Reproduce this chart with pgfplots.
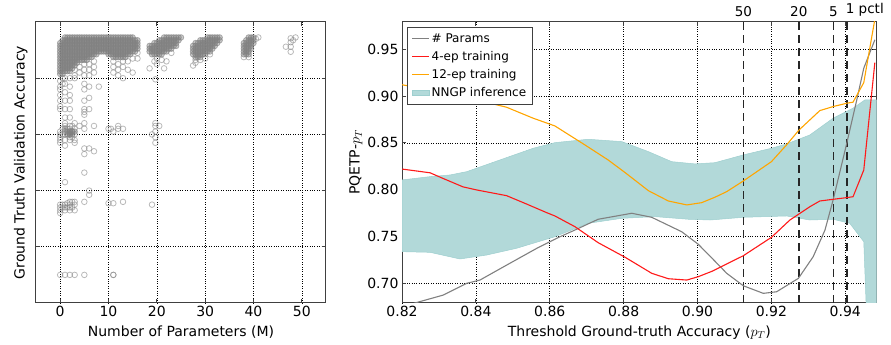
\documentclass[border=0pt]{standalone}
\usepackage{pgfplots}
\pgfplotsset{compat=1.18}
\usepackage{fontspec}
\setmainfont{DejaVu Sans}
\definecolor{mplorange}{RGB}{255,165,0}
\definecolor{mplred}{RGB}{255,25,25}
\definecolor{band}{rgb}{0.70,0.85,0.85}
\definecolor{bandedge}{rgb}{0.62,0.81,0.81}
\pgfplotsset{
  myaxis/.style={
    scale only axis,
    clip mode=individual,
    axis line style={black!75, line width=1pt},
    every tick/.style={black!75, line width=0.8pt},
    major tick length=4pt,
    tick align=inside,
    grid=major,
    major grid style={black, dotted, line width=0.6pt},
    tick label style={font=\fontsize{14}{16}\selectfont},
    label style={font=\fontsize{14}{16}\selectfont},
    /pgf/number format/assume math mode=true,
  }
}
\begin{document}
\begin{tikzpicture}
\begin{axis}[myaxis,
  at={(36pt,42pt)}, anchor=south west,
  width=290pt, height=281pt,
  xmin=-5, xmax=55, ymin=0, ymax=1,
  xtick={0,10,20,30,40,50},
  ytick={0.2,0.4,0.6,0.8}, yticklabels={},
  xlabel={Number of Parameters (M)},
  ylabel={Ground Truth Validation Accuracy},
  xlabel style={yshift=-2pt},
  ylabel style={yshift=-2pt},
]
% dense cores
\addplot[only marks, mark=*, mark size=2.8pt, mark options={draw=gray, draw opacity=0.6, fill=gray, fill opacity=0.42, line width=0.8pt}] coordinates {
(0,0.925)(0,0.915)(0,0.905)(0,0.895)(0,0.885)(0,0.875)(0,0.865)(0,0.855)(0,0.845)(0,0.835)(0,0.825)(0,0.815)
(0.5,0.935)(0.5,0.925)(0.5,0.915)(0.5,0.905)(0.5,0.895)(0.5,0.885)(0.5,0.875)(0.5,0.865)(0.5,0.855)(0.5,0.845)(0.5,0.835)(0.5,0.825)(0.5,0.815)
(1,0.945)(1,0.935)(1,0.925)(1,0.915)(1,0.905)(1,0.895)(1,0.885)(1,0.875)(1,0.865)(1,0.855)(1,0.845)(1,0.835)(1,0.825)
(1.5,0.945)(1.5,0.935)(1.5,0.925)(1.5,0.915)(1.5,0.905)(1.5,0.895)(1.5,0.885)(1.5,0.875)(1.5,0.865)(1.5,0.855)(1.5,0.845)(1.5,0.835)(1.5,0.825)
(2,0.945)(2,0.935)(2,0.925)(2,0.915)(2,0.905)(2,0.895)(2,0.885)(2,0.875)(2,0.865)(2,0.855)(2,0.845)(2,0.835)(2,0.825)
(2.5,0.945)(2.5,0.935)(2.5,0.925)(2.5,0.915)(2.5,0.905)(2.5,0.895)(2.5,0.885)(2.5,0.875)(2.5,0.865)(2.5,0.855)(2.5,0.845)(2.5,0.835)
(3,0.945)(3,0.935)(3,0.925)(3,0.915)(3,0.905)(3,0.895)(3,0.885)(3,0.875)(3,0.865)(3,0.855)(3,0.845)
(3.5,0.945)(3.5,0.935)(3.5,0.925)(3.5,0.915)(3.5,0.905)(3.5,0.895)(3.5,0.885)(3.5,0.875)(3.5,0.865)(3.5,0.855)
(4,0.945)(4,0.935)(4,0.925)(4,0.915)(4,0.905)(4,0.895)(4,0.885)(4,0.875)(4,0.865)
(4.5,0.945)(4.5,0.935)(4.5,0.925)(4.5,0.915)(4.5,0.905)(4.5,0.895)(4.5,0.885)(4.5,0.875)(4.5,0.865)
(5,0.945)(5,0.935)(5,0.925)(5,0.915)(5,0.905)(5,0.895)(5,0.885)(5,0.875)(5,0.865)
(5.5,0.945)(5.5,0.935)(5.5,0.925)(5.5,0.915)(5.5,0.905)(5.5,0.895)(5.5,0.885)(5.5,0.875)(5.5,0.865)
(6,0.945)(6,0.935)(6,0.925)(6,0.915)(6,0.905)(6,0.895)(6,0.885)(6,0.875)
(6.5,0.945)(6.5,0.935)(6.5,0.925)(6.5,0.915)(6.5,0.905)(6.5,0.895)(6.5,0.885)(6.5,0.875)
(7,0.945)(7,0.935)(7,0.925)(7,0.915)(7,0.905)(7,0.895)(7,0.885)
(7.5,0.945)(7.5,0.935)(7.5,0.925)(7.5,0.915)(7.5,0.905)(7.5,0.895)(7.5,0.885)
(8,0.945)(8,0.935)(8,0.925)(8,0.915)(8,0.905)(8,0.895)
(8.5,0.945)(8.5,0.935)(8.5,0.925)(8.5,0.915)(8.5,0.905)(8.5,0.895)
(9,0.945)(9,0.935)(9,0.925)(9,0.915)(9,0.905)(9,0.895)
(9.5,0.945)(9.5,0.935)(9.5,0.925)(9.5,0.915)(9.5,0.905)(9.5,0.895)
(10,0.945)(10,0.935)(10,0.925)(10,0.915)(10,0.905)(10,0.895)(10,0.885)
(10.5,0.945)(10.5,0.935)(10.5,0.925)(10.5,0.915)(10.5,0.905)(10.5,0.895)(10.5,0.885)
(11,0.945)(11,0.935)(11,0.925)(11,0.915)(11,0.905)(11,0.895)(11,0.885)(11,0.875)
(11.5,0.945)(11.5,0.935)(11.5,0.925)(11.5,0.915)(11.5,0.905)(11.5,0.895)(11.5,0.885)(11.5,0.875)
(12,0.945)(12,0.935)(12,0.925)(12,0.915)(12,0.905)(12,0.895)(12,0.885)(12,0.875)
(12.5,0.945)(12.5,0.935)(12.5,0.925)(12.5,0.915)(12.5,0.905)(12.5,0.895)(12.5,0.885)(12.5,0.875)
(13,0.945)(13,0.935)(13,0.925)(13,0.915)(13,0.905)(13,0.895)(13,0.885)(13,0.875)
(13.5,0.945)(13.5,0.935)(13.5,0.925)(13.5,0.915)(13.5,0.905)(13.5,0.895)(13.5,0.885)(13.5,0.875)
(14,0.945)(14,0.935)(14,0.925)(14,0.915)(14,0.905)(14,0.895)(14,0.885)
(14.5,0.945)(14.5,0.935)(14.5,0.925)(14.5,0.915)(14.5,0.905)(14.5,0.895)(14.5,0.885)
(15,0.945)(15,0.935)(15,0.925)(15,0.915)(15,0.905)(15,0.895)
(15.5,0.935)(15.5,0.925)(15.5,0.915)(15.5,0.905)(15.5,0.895)
(16,0.935)(16,0.925)(16,0.915)(16,0.905)
(1,0.62)(1.5,0.61)(2,0.61)(2.5,0.61)(2,0.605)(1.5,0.60)(2.5,0.60)(2,0.60)(3,0.61)
(18.5,0.915)(18.5,0.905)(18.5,0.895)
(19,0.915)(19,0.905)(19,0.895)(19,0.885)
(19.5,0.925)(19.5,0.915)(19.5,0.905)(19.5,0.895)(19.5,0.885)
(20,0.925)(20,0.915)(20,0.905)(20,0.895)(20,0.885)
(20.5,0.935)(20.5,0.925)(20.5,0.915)(20.5,0.905)(20.5,0.895)(20.5,0.885)
(21,0.935)(21,0.925)(21,0.915)(21,0.905)(21,0.895)(21,0.885)
(21.5,0.945)(21.5,0.935)(21.5,0.925)(21.5,0.915)(21.5,0.905)(21.5,0.895)
(22,0.945)(22,0.935)(22,0.925)(22,0.915)(22,0.905)(22,0.895)
(22.5,0.945)(22.5,0.935)(22.5,0.925)(22.5,0.915)(22.5,0.905)
(23,0.945)(23,0.935)(23,0.925)(23,0.915)(23,0.905)
(23.5,0.945)(23.5,0.935)(23.5,0.925)(23.5,0.915)
(24,0.945)(24,0.935)(24,0.925)(24,0.915)(24.5,0.945)(24.5,0.935)(25,0.945)
(27.5,0.915)(27.5,0.905)(27.5,0.895)(27.5,0.885)
(28,0.925)(28,0.915)(28,0.905)(28,0.895)(28,0.885)(28,0.875)
(28.5,0.925)(28.5,0.915)(28.5,0.905)(28.5,0.895)(28.5,0.885)(28.5,0.875)
(29,0.935)(29,0.925)(29,0.915)(29,0.905)(29,0.895)(29,0.885)(29,0.875)
(29.5,0.935)(29.5,0.925)(29.5,0.915)(29.5,0.905)(29.5,0.895)(29.5,0.885)
(30,0.935)(30,0.925)(30,0.915)(30,0.905)(30,0.895)(30,0.885)
(30.5,0.945)(30.5,0.935)(30.5,0.925)(30.5,0.915)(30.5,0.905)(30.5,0.895)
(31,0.945)(31,0.935)(31,0.925)(31,0.915)(31,0.905)(31,0.895)
(31.5,0.945)(31.5,0.935)(31.5,0.925)(31.5,0.915)(31.5,0.905)
(32,0.945)(32,0.935)(32,0.925)(32,0.915)(32.5,0.945)(32.5,0.935)(32.5,0.925)(33,0.945)(33,0.935)
(38,0.925)(38,0.915)(38,0.905)(38,0.895)(38,0.885)
(38.5,0.935)(38.5,0.925)(38.5,0.915)(38.5,0.905)(38.5,0.895)(38.5,0.885)
(39,0.945)(39,0.935)(39,0.925)(39,0.915)(39,0.905)(39,0.895)(39,0.885)
(39.5,0.945)(39.5,0.935)(39.5,0.925)(39.5,0.915)(39.5,0.905)
(40,0.945)(40,0.935)(40,0.925)
};
% sparse points
\addplot[only marks, mark=o, mark size=2.8pt, color=gray, mark options={draw opacity=0.55, line width=0.8pt}] coordinates {
(0,0.79)(0,0.77)(0,0.76)(0,0.74)(0,0.72)(0,0.70)(0,0.69)
(0.5,0.80)(0.5,0.78)
(1,0.80)(1,0.78)(1,0.75)(1,0.72)(1,0.69)(1,0.66)(1,0.64)
(2,0.80)(2,0.77)(2,0.74)(2,0.72)(2,0.69)(2,0.66)
(3,0.83)(3,0.81)(3,0.80)(4,0.84)(4,0.82)
(5,0.85)(5,0.83)(5,0.81)(5,0.78)(5,0.76)(5,0.72)(5,0.69)(5,0.68)(5,0.67)
(6,0.85)(6,0.83)(6,0.81)(6,0.77)(6,0.73)(6,0.69)
(7,0.86)(7,0.84)(7,0.82)(8,0.77)
(11,0.86)(11,0.84)(11,0.82)(12,0.85)(12,0.83)(12,0.81)
(13,0.86)(13,0.84)(13,0.80)(14,0.86)(14,0.83)(15,0.87)(15,0.82)(16,0.89)(16,0.87)
(0,0.61)(0,0.60)(0,0.59)(0,0.58)(0,0.57)(0.5,0.62)(0.5,0.60)
(1,0.63)(1,0.61)(1,0.60)(1,0.58)(1,0.56)(1.5,0.62)(1.5,0.60)
(2,0.63)(2,0.62)(2,0.61)(2,0.60)(2,0.59)(2,0.58)(2.5,0.63)(2.5,0.61)(2.5,0.59)
(3,0.64)(3,0.62)(3,0.60)(3,0.58)(3,0.57)(4,0.63)
(5,0.64)(5,0.62)(5,0.55)(5,0.53)(6,0.55)(7,0.63)(7,0.54)
(10,0.62)(10.5,0.62)(11,0.61)(12,0.63)(12,0.62)(13,0.62)
(19,0.60)(19.7,0.64)(19.7,0.63)(19.7,0.61)(19.7,0.59)(19.7,0.57)(20.5,0.63)
(5,0.464)(1,0.43)(6,0.40)(6,0.385)
(0,0.35)(0,0.34)(0,0.33)(0,0.32)(0.5,0.35)(0.5,0.34)
(1,0.35)(1,0.34)(1,0.33)(1.5,0.355)(1.5,0.34)
(2,0.36)(2,0.35)(2,0.34)(2,0.33)(2.5,0.36)(2.5,0.34)
(3,0.36)(3,0.35)(3,0.33)(5,0.36)(10,0.355)(11,0.355)(13,0.36)(19,0.35)
(0,0.10)(1,0.10)(2,0.10)(3,0.10)(5,0.10)(11,0.10)(11,0.10)
(18.5,0.835)(19.5,0.86)(20,0.87)(21,0.865)(22,0.86)(21.5,0.835)(20,0.85)(23,0.89)(19.7,0.796)
(28,0.855)(28,0.865)(29,0.865)(30,0.87)(31,0.885)(27.5,0.845)
(38,0.875)(39,0.875)(41,0.945)(40.5,0.94)
(46.7,0.912)(47.7,0.942)(47.7,0.928)(47.7,0.912)(47.7,0.894)(48.7,0.945)(48.2,0.935)
};
\end{axis}

\begin{axis}[myaxis,
  at={(402pt,42pt)}, anchor=south west,
  width=474.7pt, height=281pt,
  xmin=0.82, xmax=0.9485, ymin=0.679, ymax=0.979,
  xtick={0.82,0.84,0.86,0.88,0.90,0.92,0.94},
  ytick={0.70,0.75,0.80,0.85,0.90,0.95},
  xticklabel style={/pgf/number format/.cd, fixed, fixed zerofill, precision=2},
  yticklabel style={/pgf/number format/.cd, fixed, fixed zerofill, precision=2},
  xlabel={Threshold Ground-truth Accuracy ($p_T$)},
  ylabel={PQETP-$p_T$},
  xlabel style={yshift=-2pt},
  ylabel style={yshift=-2pt},
  legend cell align=left,
  legend style={at={(0.0105,0.982)}, anchor=north west, draw=black!75, line width=1pt, fill=white,
    font=\fontsize{12}{13}\selectfont, row sep=3.6pt, inner xsep=4pt, inner ysep=4pt},
]
\addlegendimage{color=gray, line width=1.1pt}
\addlegendentry{\# Params}
\addlegendimage{color=mplred, line width=1.1pt}
\addlegendentry{4-ep training}
\addlegendimage{color=mplorange, line width=1.1pt}
\addlegendentry{12-ep training}
\addlegendimage{area legend, fill=band, draw=bandedge}
\addlegendentry{NNGP inference}
\addplot[fill=band, draw=bandedge, line width=0.5pt, forget plot] coordinates {
(0.8200,0.8104)(0.8276,0.8139)(0.8330,0.8157)(0.8375,0.8192)(0.8465,0.8317)(0.8555,0.8442)
(0.8614,0.8502)(0.8704,0.8538)(0.8795,0.8513)(0.8867,0.8406)(0.8930,0.8299)(0.8993,0.8275)
(0.9047,0.8288)(0.9124,0.8371)(0.9200,0.8442)(0.9241,0.8488)(0.9304,0.8584)(0.9367,0.8763)
(0.9421,0.8870)(0.9453,0.8958)(0.9485,0.8958)
(0.9485,0.60)(0.9462,0.60)(0.9459,0.65)(0.9450,0.7444)(0.9412,0.7641)(0.9367,0.7684)
(0.9304,0.7676)(0.9241,0.7719)(0.9124,0.7705)(0.9034,0.7676)(0.8975,0.7684)(0.8885,0.7712)
(0.8795,0.7694)(0.8704,0.7641)(0.8614,0.7498)(0.8510,0.7374)(0.8429,0.7302)(0.8357,0.7260)
(0.8276,0.7331)(0.8200,0.7338)
} -- cycle;
\addplot[black!85, line width=1.5pt, dash pattern=on 8pt off 5pt, forget plot] coordinates {(0.9124,0.679)(0.9124,0.979)};
\addplot[black!85, line width=1.5pt, dash pattern=on 8pt off 5pt, forget plot] coordinates {(0.9274,0.679)(0.9274,0.979)};
\addplot[black!85, line width=1.5pt, dash pattern=on 8pt off 5pt, forget plot] coordinates {(0.9368,0.679)(0.9368,0.979)};
\addplot[black!85, line width=1.5pt, dash pattern=on 8pt off 5pt, forget plot] coordinates {(0.9404,0.679)(0.9404,0.979)};
\addplot[color=gray, line width=1.1pt, forget plot] coordinates {
(0.8200,0.674)(0.8235,0.679)(0.8312,0.6875)(0.8375,0.7000)(0.8411,0.7035)(0.8492,0.7214)
(0.8565,0.7374)(0.8628,0.7498)(0.8668,0.7569)(0.8731,0.7684)(0.8822,0.7748)(0.8876,0.7705)
(0.8957,0.7551)(0.9002,0.7417)(0.9040,0.7265)(0.9079,0.7107)(0.9124,0.6974)(0.9178,0.6893)
(0.9214,0.6910)(0.9273,0.7053)(0.9313,0.7284)(0.9345,0.7569)(0.9367,0.7890)(0.9404,0.8496)
(0.9431,0.8958)(0.9450,0.9297)(0.9480,0.9600)
};
\addplot[color=mplred, line width=1.1pt, forget plot] coordinates {
(0.8200,0.8220)(0.8276,0.8180)(0.8311,0.8120)(0.8365,0.8030)(0.8402,0.7997)(0.8483,0.7936)
(0.8537,0.7847)(0.8592,0.7754)(0.8614,0.7719)(0.8668,0.7605)(0.8731,0.7434)(0.8804,0.7278)
(0.8876,0.7107)(0.8921,0.7049)(0.8971,0.7035)(0.9002,0.7071)(0.9040,0.7130)(0.9124,0.7295)
(0.9200,0.7491)(0.9250,0.7676)(0.9304,0.7818)(0.9331,0.7879)(0.9367,0.7897)(0.9404,0.7915)
(0.9421,0.7925)(0.9450,0.8210)(0.9480,0.9357)
};
\addplot[color=mplorange, line width=1.1pt, forget plot] coordinates {
(0.8200,0.9120)(0.8300,0.9050)(0.8402,0.8958)(0.8483,0.8880)(0.8555,0.8763)(0.8614,0.8680)
(0.8695,0.8478)(0.8758,0.8317)(0.8804,0.8182)(0.8867,0.7989)(0.8921,0.7879)(0.8971,0.7837)
(0.9011,0.7861)(0.9047,0.7919)(0.9079,0.7979)(0.9124,0.8093)(0.9200,0.8299)(0.9241,0.8478)
(0.9275,0.8638)(0.9331,0.8844)(0.9367,0.8887)(0.9404,0.8923)(0.9421,0.8934)(0.9450,0.9143)
(0.9480,0.9820)
};
\node[anchor=south, inner sep=0pt, font=\fontsize{13.5}{16}\selectfont] at (axis cs:0.9124,0.979) [yshift=5pt] {50};
\node[anchor=south, inner sep=0pt, font=\fontsize{13.5}{16}\selectfont] at (axis cs:0.9274,0.979) [yshift=5pt] {20};
\node[anchor=south, inner sep=0pt, font=\fontsize{13.5}{16}\selectfont] at (axis cs:0.9368,0.979) [yshift=5pt] {5};
\node[anchor=south west, inner sep=0pt, font=\fontsize{13.5}{16}\selectfont] at (axis cs:0.9401,0.979) [yshift=5pt] {1 pctl};
\end{axis}
\pgfresetboundingbox
\useasboundingbox (0,0) rectangle (891pt,345pt);
\end{tikzpicture}
\end{document}
